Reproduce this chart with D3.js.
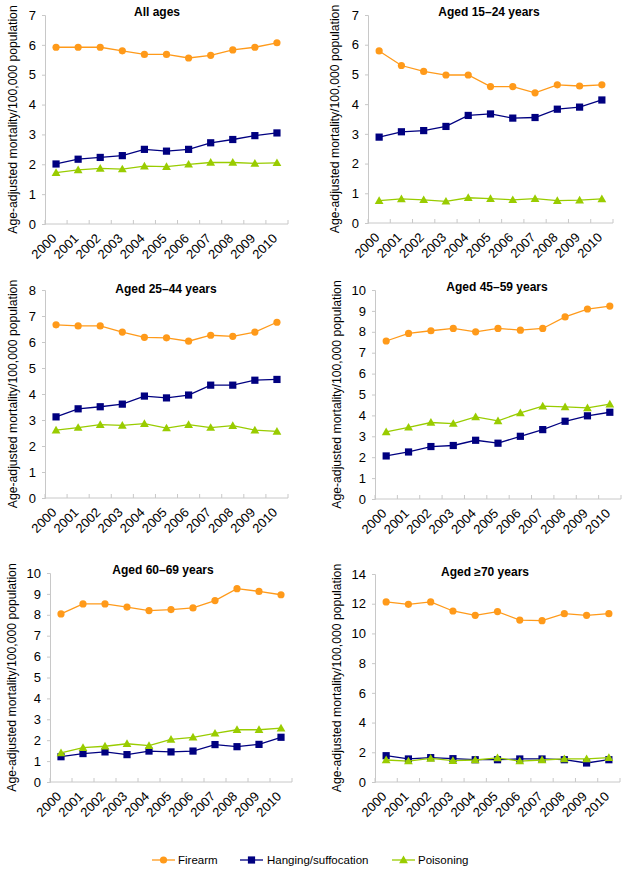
<!DOCTYPE html>
<html>
<head>
<meta charset="utf-8">
<script src="https://cdn.jsdelivr.net/npm/d3@7/dist/d3.min.js"></script>
<style>
  html, body { margin: 0; padding: 0; background: #fff; }
  svg { display: block; font-family: Arial, "Liberation Sans", sans-serif; }
</style>
</head>
<body>
<svg id="chart" width="629" height="875"></svg>
<script>
const years = ["2000","2001","2002","2003","2004","2005","2006","2007","2008","2009","2010"];
const seriesNames = ["Firearm", "Hanging/suffocation", "Poisoning"];
const panelTitles = ["All ages", "Aged 15\u201324 years", "Aged 25\u201344 years", "Aged 45\u201359 years", "Aged 60\u201369 years", "Aged \u226570 years"];
const yMaxes = [7, 7, 8, 10, 10, 14];
const yStepValues = [1, 1, 1, 1, 1, 2];
const yAxisLabel = "Age-adjusted mortality/100,000 population";

// All ages
const allFirearm   = [5.92,5.92,5.92,5.80,5.68,5.68,5.56,5.65,5.83,5.92,6.07];
const allHanging   = [2.01,2.17,2.23,2.29,2.50,2.44,2.50,2.72,2.83,2.96,3.05];
const allPoisoning = [1.72,1.81,1.86,1.84,1.94,1.92,2.00,2.06,2.06,2.03,2.05];
// 15-24
const a1524Firearm   = [5.79,5.30,5.10,4.98,4.98,4.59,4.59,4.38,4.65,4.61,4.65];
const a1524Hanging   = [2.89,3.07,3.11,3.25,3.62,3.67,3.53,3.55,3.83,3.90,4.14];
const a1524Poisoning = [0.75,0.81,0.78,0.73,0.85,0.82,0.78,0.82,0.75,0.77,0.81];
// 25-44
const a2544Firearm   = [6.66,6.62,6.62,6.38,6.18,6.16,6.03,6.26,6.22,6.38,6.76];
const a2544Hanging   = [3.12,3.43,3.51,3.61,3.92,3.85,3.96,4.34,4.34,4.53,4.56];
const a2544Poisoning = [2.61,2.71,2.82,2.79,2.86,2.69,2.82,2.71,2.78,2.61,2.56];
// 45-59
const a4559Firearm   = [7.56,7.92,8.05,8.16,8.00,8.16,8.08,8.16,8.71,9.09,9.23];
const a4559Hanging   = [2.06,2.25,2.51,2.56,2.81,2.67,3.00,3.32,3.72,3.98,4.15];
const a4559Poisoning = [3.21,3.43,3.66,3.61,3.93,3.74,4.12,4.44,4.41,4.36,4.54];
// 60-69
const a6069Firearm   = [8.04,8.52,8.52,8.37,8.20,8.25,8.33,8.68,9.25,9.12,8.96];
const a6069Hanging   = [1.21,1.36,1.44,1.31,1.48,1.44,1.48,1.79,1.69,1.80,2.14];
const a6069Poisoning = [1.39,1.64,1.71,1.83,1.74,2.04,2.14,2.33,2.50,2.50,2.58];
// >=70
const a70Firearm   = [12.12,11.96,12.12,11.51,11.22,11.47,10.90,10.86,11.33,11.22,11.33];
const a70Hanging   = [1.77,1.55,1.64,1.57,1.50,1.50,1.55,1.55,1.50,1.28,1.50];
const a70Poisoning = [1.48,1.41,1.59,1.44,1.48,1.62,1.41,1.48,1.55,1.55,1.64];

const panelData = [
  [allFirearm, allHanging, allPoisoning],
  [a1524Firearm, a1524Hanging, a1524Poisoning],
  [a2544Firearm, a2544Hanging, a2544Poisoning],
  [a4559Firearm, a4559Hanging, a4559Poisoning],
  [a6069Firearm, a6069Hanging, a6069Poisoning],
  [a70Firearm, a70Hanging, a70Poisoning]
];

// layout (pixel geometry)
const layout = [
  {x0: 45,  x1: 288, y0: 15,  y1: 224, labelX: 13,  titleX: 157, titleY: 16},
  {x0: 368, x1: 613, y0: 15,  y1: 223, labelX: 335, titleX: 489, titleY: 16},
  {x0: 45,  x1: 288, y0: 290, y1: 498, labelX: 13,  titleX: 166, titleY: 293},
  {x0: 375, x1: 621, y0: 290, y1: 499, labelX: 337, titleX: 497, titleY: 291},
  {x0: 50,  x1: 292, y0: 573, y1: 782, labelX: 12,  titleX: 163, titleY: 574},
  {x0: 375, x1: 620, y0: 574, y1: 782, labelX: 337, titleX: 485, titleY: 576}
];

const colors = ["#FF9A1A", "#000080", "#99CC00"];
const axisColor = "#c8c8c8";

const svg = d3.select("#chart");

function drawMarker(g, type, x, y, color) {
  if (type === 0) {
    g.append("circle").attr("cx", x).attr("cy", y).attr("r", 3.6).attr("fill", color);
  } else if (type === 1) {
    g.append("rect").attr("x", x - 3.6).attr("y", y - 3.6).attr("width", 7.2).attr("height", 7.2).attr("fill", color);
  } else {
    const s = 4.4;
    g.append("path").attr("d", `M${x},${y - s}L${x + s},${y + s * 0.75}L${x - s},${y + s * 0.75}Z`).attr("fill", color);
  }
}

panelData.forEach((series, pi) => {
  const L = layout[pi];
  const g = svg.append("g");
  const x = d3.scaleBand().domain(years).range([L.x0, L.x1]);
  const y = d3.scaleLinear().domain([0, yMaxes[pi]]).range([L.y1, L.y0]);
  const ticks = d3.range(0, yMaxes[pi] + 0.001, yStepValues[pi]);

  // y axis
  const yAxis = g.append("g").attr("transform", `translate(${L.x0},0)`)
    .call(d3.axisLeft(y).tickValues(ticks).tickSize(3).tickPadding(6).tickFormat(d3.format("d")));
  yAxis.select(".domain").attr("stroke", axisColor);
  yAxis.selectAll(".tick line").attr("stroke", axisColor);
  yAxis.selectAll("text").attr("font-size", 13).attr("fill", "#000")
    .attr("font-family", "Arial, 'Liberation Sans', sans-serif");

  // x axis
  const xAxis = g.append("g").attr("transform", `translate(0,${L.y1})`);
  xAxis.append("line").attr("x1", L.x0).attr("x2", L.x1).attr("stroke", axisColor);
  const bounds = years.map((yr) => x(yr)).concat([L.x1]);
  bounds.forEach(b => {
    xAxis.append("line").attr("x1", b).attr("x2", b).attr("y1", -4).attr("y2", 0).attr("stroke", axisColor);
  });
  years.forEach(yr => {
    const cx = x(yr) + x.bandwidth() / 2;
    xAxis.append("text")
      .attr("transform", `translate(${cx - 2},${12}) rotate(-45)`)
      .attr("text-anchor", "end")
      .attr("dy", "0.35em")
      .attr("font-size", 13)
      .text(yr);
  });

  // y label
  g.append("text")
    .attr("transform", `translate(${L.labelX},${(L.y0 + L.y1) / 2}) rotate(-90)`)
    .attr("text-anchor", "middle")
    .attr("dy", "0.35em")
    .attr("font-size", 12.2)
    .text(yAxisLabel);

  // title
  g.append("text")
    .attr("x", L.titleX).attr("y", L.titleY)
    .attr("text-anchor", "middle")
    .attr("font-size", 12)
    .attr("font-weight", "bold")
    .text(panelTitles[pi]);

  // series
  series.forEach((vals, si) => {
    const line = d3.line()
      .x((d, i) => x(years[i]) + x.bandwidth() / 2)
      .y(d => y(d));
    g.append("path").datum(vals).attr("d", line)
      .attr("fill", "none").attr("stroke", colors[si]).attr("stroke-width", 1.3);
    const mg = g.append("g");
    vals.forEach((v, i) => drawMarker(mg, si, x(years[i]) + x.bandwidth() / 2, y(v), colors[si]));
  });
});

// legend
const legendItems = [
  {lx: 152, tx: 178},
  {lx: 240, tx: 267},
  {lx: 392, tx: 418}
];
const leg = svg.append("g");
seriesNames.forEach((name, si) => {
  const it = legendItems[si];
  const ly = 860;
  leg.append("line").attr("x1", it.lx).attr("x2", it.lx + 23).attr("y1", ly).attr("y2", ly)
    .attr("stroke", colors[si]).attr("stroke-width", 1.3);
  drawMarker(leg, si, it.lx + 11.5, ly, colors[si]);
  leg.append("text").attr("x", it.tx).attr("y", ly).attr("dy", "0.35em")
    .attr("font-size", 11.5).text(name);
});
</script>
</body>
</html>
